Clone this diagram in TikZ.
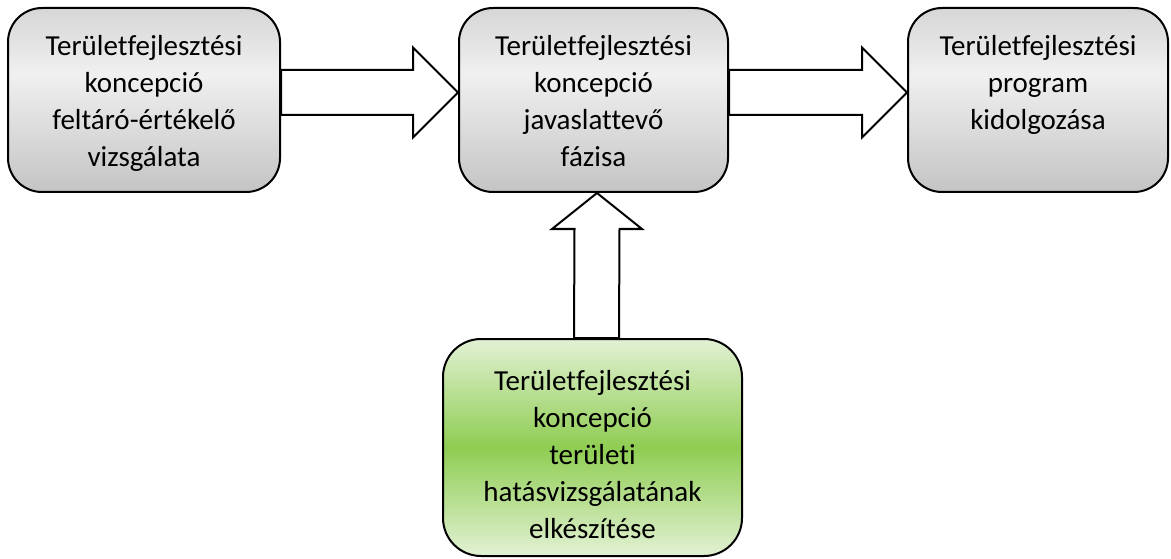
\documentclass[tikz,border=0pt]{standalone}
\usepackage{fontspec}
\setmainfont{Carlito}[Ligatures=NoCommon]
\usepackage{tikz}
\usetikzlibrary{positioning, calc}
\definecolor{boxtop}{HTML}{D6D6D6}
\definecolor{boxmid}{HTML}{F0F0F0}
\definecolor{boxbot}{HTML}{C4C4C4}
\definecolor{greenlight}{HTML}{E2F1D4}
\definecolor{greenmid}{HTML}{8FCD52}
\pgfdeclareverticalshading{greybox}{100bp}{color(0bp)=(boxbot); color(25bp)=(boxbot); color(57bp)=(boxmid); color(75bp)=(boxtop); color(100bp)=(boxtop)}

\begin{document}
\begin{tikzpicture}[x=1pt, y=-1pt,
    phase/.style={draw, line width=2pt, rounded corners=34pt, shading=greybox, minimum width=#1, minimum height=184pt, inner sep=0pt},
    impact/.style={draw, line width=2pt, rounded corners=38pt, top color=greenlight, bottom color=greenlight, middle color=greenmid, minimum width=299pt, minimum height=217pt, inner sep=0pt},
    phasetext/.style={align=center, inner sep=0pt, font=\fontsize{29}{37}\selectfont},
    bigarrow/.style={draw, fill=white, line width=2pt, line join=miter}]
    \useasboundingbox (0,0) rectangle (1171,559);

    % boxes
    \node[phase=272pt] (koncfel) at (144,100) {};
    \node[phase=269pt] (koncjav) at (593.5,100) {};
    \node[phase=260pt] (program) at (1038,100) {};
    \node[impact] (hatas) at (592.5,447.5) {};

    \node[phasetext, below=28pt of koncfel.north] (koncfeltext) {Területfejlesztési\\koncepció\\feltáró-értékelő\\vizsgálata};
    \node[phasetext, below=28pt of koncjav.north] (koncjavtext) {Területfejlesztési\\koncepció\\javaslattevő\\fázisa};
    \node[phasetext, below=28pt of program.north] (programtext) {Területfejlesztési\\program\\kidolgozása};
    \node[phasetext, below=32pt of hatas.north] (hatastext) {Területfejlesztési\\koncepció\\területi\\hatásvizsgálatának\\elkészítése};

    % block arrows
    \foreach \a/\b in {koncfel/koncjav, koncjav/program}
    {
        \draw[bigarrow] ($(\a.east)+(0,-30)$) -- ($(\b.west)+(-45,-30)$) -- ($(\b.west)+(-45,-52.5)$) -- ($(\b.west)+(0,-7.5)$)
            -- ($(\b.west)+(-45,37.5)$) -- ($(\b.west)+(-45,15)$) -- ($(\a.east)+(0,15)$) -- cycle;
    }
    \draw[bigarrow] ($(hatas.north)+(-18.5,0)$) -- ($(koncjav.south)+(-19,36)$) -- ($(koncjav.south)+(-41.5,36)$) -- ($(koncjav.south)+(3.5,0)$)
        -- ($(koncjav.south)+(48.5,36)$) -- ($(koncjav.south)+(26,36)$) -- ($(hatas.north)+(26.5,0)$) -- cycle;
\end{tikzpicture}
\end{document}
